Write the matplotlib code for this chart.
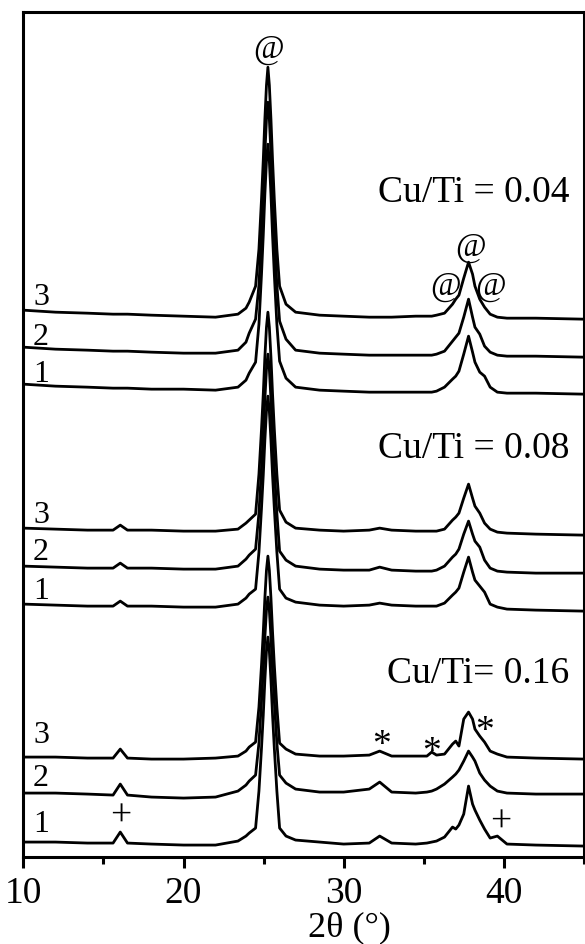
#!/usr/bin/python

# XRD patterns of Cu/TiO2 samples, stacked by Cu/Ti ratio

import numpy as np
import matplotlib
matplotlib.use("Agg")
import matplotlib.pyplot as plt
from matplotlib.ticker import MultipleLocator

plt.rcParams['font.family'] = ['Liberation Serif', 'DejaVu Serif']

#################################
# data
#################################

two_theta = [10.0, 12.0, 14.0, 15.6, 16.05, 16.5, 18.0, 20.0, 22.0, 23.4,
             23.9, 24.1, 24.5, 24.71, 24.87, 24.98, 25.08, 25.18, 25.27, 25.36,
             25.46, 25.56, 25.67, 25.83, 26.0, 26.4, 27.0, 28.5, 30.0, 31.6,
             32.25, 33.0, 34.5, 35.2, 35.5, 35.8, 36.3, 36.8, 37.0, 37.2,
             37.5, 37.8, 38.05, 38.2, 38.5, 38.8, 39.15, 39.6, 40.2, 42.0,
             45.0]

# intensity (a.u.) above each pattern's own offset
i_004_3 = [0, -2, -3, -4, -4, -4, -5, -6, -7, -4,
           2, 8, 24, 61, 111, 150, 191, 225, 243, 225,
           191, 150, 111, 61, 24, 6, -2, -5, -6, -7,
           -7, -7, -6, -6, -6, -5, -3, 6, 11, 15,
           32, 48, 36, 24, 11, 3, -4, -7, -8, -8,
           -9]
i_004_2 = [0, -2, -3, -4, -4, -4, -5, -6, -6, -3,
           5, 14, 28, 62, 113, 152, 194, 228, 245, 228,
           194, 152, 113, 62, 26, 8, -3, -6, -7, -8,
           -8, -8, -8, -8, -8, -7, -4, 6, 10, 14,
           30, 48, 30, 20, 13, 1, -5, -8, -9, -9,
           -10]
i_004_1 = [0, -2, -3, -4, -4, -4, -5, -5, -6, -3,
           4, 11, 22, 60, 110, 149, 190, 223, 240, 223,
           190, 149, 110, 60, 23, 6, -3, -6, -7, -8,
           -8, -8, -8, -8, -8, -7, -3, 5, 8, 13,
           30, 48, 32, 22, 12, 8, -3, -8, -9, -9,
           -10]
i_008_3 = [0, -1, -2, -2, 3, -2, -2, -3, -3, -1,
           5, 8, 14, 54, 99, 134, 171, 201, 216, 201,
           171, 134, 99, 54, 18, 6, 0, -2, -3, -2,
           0, -2, -3, -3, -3, -3, -1, 8, 11, 15,
           30, 44, 30, 22, 15, 5, -1, -4, -5, -6,
           -7]
i_008_2 = [0, -1, -2, -2, 3, -2, -2, -3, -3, 0,
           7, 11, 17, 53, 98, 131, 167, 197, 212, 197,
           167, 131, 98, 53, 15, 6, 0, -3, -4, -4,
           -1, -4, -5, -5, -5, -4, 0, 9, 12, 17,
           32, 45, 32, 25, 19, 6, -2, -5, -6, -7,
           -7]
i_008_1 = [0, -1, -2, -2, 3, -2, -2, -3, -3, 0,
           6, 10, 15, 52, 96, 129, 164, 193, 208, 193,
           164, 129, 96, 52, 15, 6, 2, -1, -2, -1,
           1, -1, -2, -2, -2, -2, 1, 9, 12, 16,
           32, 47, 32, 24, 18, 12, 0, -3, -5, -6,
           -7]
i_016_3 = [0, 0, -1, -1, 8, -1, -2, -2, -1, 1,
           6, 10, 15, 50, 92, 125, 159, 187, 201, 187,
           159, 125, 92, 50, 14, 8, 3, 1, 1, 2,
           6, 1, 1, 1, 5, 2, 3, 13, 16, 11,
           38, 45, 38, 28, 21, 15, 6, 3, 0, -1,
           -2]
i_016_2 = [0, 0, -1, -2, 9, -2, -4, -5, -4, 2,
           8, 12, 18, 50, 92, 123, 156, 183, 196, 183,
           156, 123, 92, 50, 18, 10, 4, 1, 1, 4,
           11, 1, 0, 1, 2, 4, 9, 16, 19, 23,
           32, 42, 36, 32, 20, 13, 7, 2, 0, -1,
           -1]
i_016_1 = [0, 0, -1, -1, 10, -1, -2, -3, -3, 1,
           6, 9, 14, 51, 94, 127, 162, 191, 205, 191,
           162, 127, 94, 51, 14, 6, 2, 0, -2, -1,
           6, -1, -2, -1, 0, 1, 5, 15, 13, 17,
           28, 56, 38, 32, 22, 13, 4, 6, -2, -3,
           -4]

patterns = [i_004_3, i_004_2, i_004_1,
            i_008_3, i_008_2, i_008_1,
            i_016_3, i_016_2, i_016_1]
offsets = [547, 510, 473, 329, 291, 253, 100, 64, 15]
sample_labels = ['3', '2', '1', '3', '2', '1', '3', '2', '1']
label_y = [561, 521, 484, 343, 306, 267, 123, 80, 34]

groups = ['Cu/Ti = 0.04', 'Cu/Ti = 0.08', 'Cu/Ti= 0.16']
group_y = [665, 409, 184]

# phase marks: (symbol, 2theta, height)
marks = [('@', 25.3, 808), ('@', 37.9, 610), ('@', 36.38, 571), ('@', 39.18, 571),
         ('*', 32.35, 112), ('*', 35.5, 105), ('*', 38.77, 126),
         ('+', 16.05, 42), ('+', 39.8, 36)]

####################
# plot
####################
fig = plt.figure(figsize=(5.85, 9.45), dpi=100)
ax = fig.add_axes([0.040, 0.092, 0.958, 0.894])

x = np.array(two_theta)
for inten, off in zip(patterns, offsets):
    ax.plot(x, np.array(inten) + off, color='black', lw=2.0, solid_joinstyle='round')

for lab, off, ly in zip(sample_labels, offsets, label_y):
    ax.text(11.1, ly, lab, fontsize=23, ha='center', va='center')

for g, gy in zip(groups, group_y):
    ax.text(44.1, gy, g, fontsize=27, ha='right', va='center')

for sym, mx, my in marks:
    fs = 24 if sym == '@' else 27
    ax.text(mx, my, sym, fontsize=fs, ha='center', va='center')

ax.set_xlim(10, 45)
ax.set_ylim(0, 845)
ax.set_yticks([])
ax.xaxis.set_major_locator(MultipleLocator(10))
ax.xaxis.set_minor_locator(MultipleLocator(5))
ax.tick_params(axis='x', which='major', direction='out', length=8, width=2.2,
               labelsize=27, pad=5)
ax.tick_params(axis='x', which='minor', direction='out', length=5, width=2.2)
for sp in ax.spines.values():
    sp.set_linewidth(2.2)

ax.set_xlabel('2θ (°)', fontsize=26, labelpad=0)
ax.xaxis.set_label_coords(0.582, -0.063)

fig.savefig('out.png', dpi=100)
